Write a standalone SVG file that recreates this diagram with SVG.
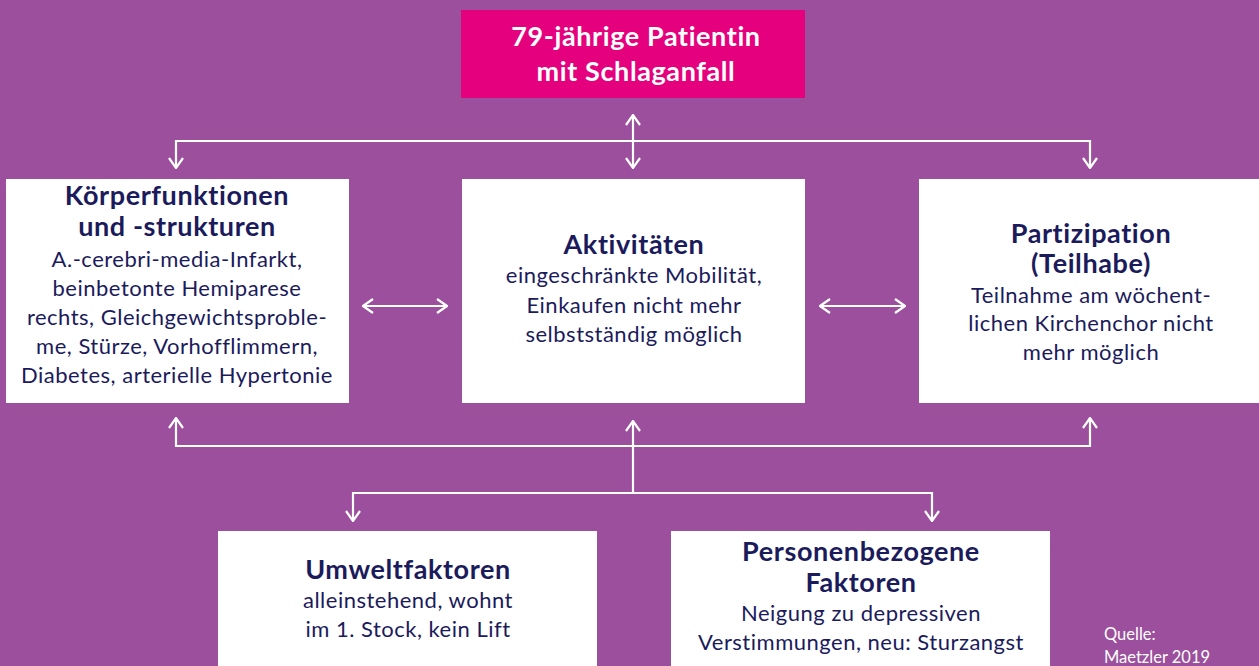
<svg xmlns="http://www.w3.org/2000/svg" width="1259" height="666" viewBox="0 0 1259 666">
<defs>
<style>
.box{fill:#ffffff}
.t{font-family:Lato,"Open Sans",sans-serif;font-weight:bold;font-size:27px;letter-spacing:0.6px;fill:#1b1b5c;text-anchor:middle}
.b{font-family:Lato,"Open Sans",sans-serif;font-size:22px;letter-spacing:0.5px;fill:#1b1b5c;text-anchor:middle}
.w{font-family:Lato,"Open Sans",sans-serif;font-weight:bold;font-size:27px;letter-spacing:0.6px;fill:#ffffff;text-anchor:middle}
.q{font-family:Lato,"Open Sans",sans-serif;font-size:16.5px;fill:#ffffff}
.c{fill:none;stroke:#ffffff;stroke-width:2.2}
</style>
<marker id="ah" viewBox="0 0 12 16" refX="11" refY="8" markerWidth="12" markerHeight="16" markerUnits="userSpaceOnUse" orient="auto-start-reverse">
<path d="M1,1 L11,8 L1,15" fill="none" stroke="#ffffff" stroke-width="2.2"/>
</marker>
</defs>
<rect width="1259" height="666" fill="#9b4f9c"/>
<g id="connectors">
<path class="c" d="M176,168 V141 H1090 V168" marker-start="url(#ah)" marker-end="url(#ah)"/>
<path class="c" d="M633,115 V168" marker-start="url(#ah)" marker-end="url(#ah)"/>
<path class="c" d="M176,418 V446 H1090 V418" marker-start="url(#ah)" marker-end="url(#ah)"/>
<path class="c" d="M633,493 V421" marker-end="url(#ah)"/>
<path class="c" d="M353,521 V493 H932 V521" marker-start="url(#ah)" marker-end="url(#ah)"/>
<path class="c" d="M363,306 H447" marker-start="url(#ah)" marker-end="url(#ah)"/>
<path class="c" d="M820,306 H905" marker-start="url(#ah)" marker-end="url(#ah)"/>
</g>
<g id="patient">
<rect x="461" y="10" width="344" height="88" fill="#e5007d"/>
<text class="w" x="636" y="46">79-jährige Patientin</text>
<text class="w" x="636" y="81">mit Schlaganfall</text>
</g>
<g id="koerper">
<rect class="box" x="6" y="179" width="343" height="224"/>
<text class="t" x="177" y="205">Körperfunktionen</text>
<text class="t" x="177" y="236">und -strukturen</text>
<text class="b" x="177" y="267">A.-cerebri-media-Infarkt,</text>
<text class="b" x="177" y="296">beinbetonte Hemiparese</text>
<text class="b" x="177" y="325">rechts, Gleichgewichtsproble-</text>
<text class="b" x="177" y="354">me, Stürze, Vorhofflimmern,</text>
<text class="b" x="177" y="383">Diabetes, arterielle Hypertonie</text>
</g>
<g id="aktivitaeten">
<rect class="box" x="462" y="179" width="343" height="224"/>
<text class="t" x="634" y="254">Aktivitäten</text>
<text class="b" x="634" y="283">eingeschränkte Mobilität,</text>
<text class="b" x="634" y="313">Einkaufen nicht mehr</text>
<text class="b" x="634" y="342">selbstständig möglich</text>
</g>
<g id="partizipation">
<rect class="box" x="919" y="179" width="340" height="224"/>
<text class="t" x="1091" y="243">Partizipation</text>
<text class="t" x="1091" y="273">(Teilhabe)</text>
<text class="b" x="1091" y="303">Teilnahme am wöchent-</text>
<text class="b" x="1091" y="331">lichen Kirchenchor nicht</text>
<text class="b" x="1091" y="360">mehr möglich</text>
</g>
<g id="umwelt">
<rect class="box" x="218" y="531" width="379" height="135"/>
<text class="t" x="408" y="579">Umweltfaktoren</text>
<text class="b" x="408" y="608">alleinstehend, wohnt</text>
<text class="b" x="408" y="637">im 1. Stock, kein Lift</text>
</g>
<g id="person">
<rect class="box" x="671" y="531" width="379" height="135"/>
<text class="t" x="861" y="561">Personenbezogene</text>
<text class="t" x="861" y="592">Faktoren</text>
<text class="b" x="861" y="621">Neigung zu depressiven</text>
<text class="b" x="861" y="650">Verstimmungen, neu: Sturzangst</text>
</g>
<g id="quelle">
<text class="q" x="1104" y="640">Quelle:</text>
<text class="q" x="1104" y="663">Maetzler 2019</text>
</g>
</svg>
